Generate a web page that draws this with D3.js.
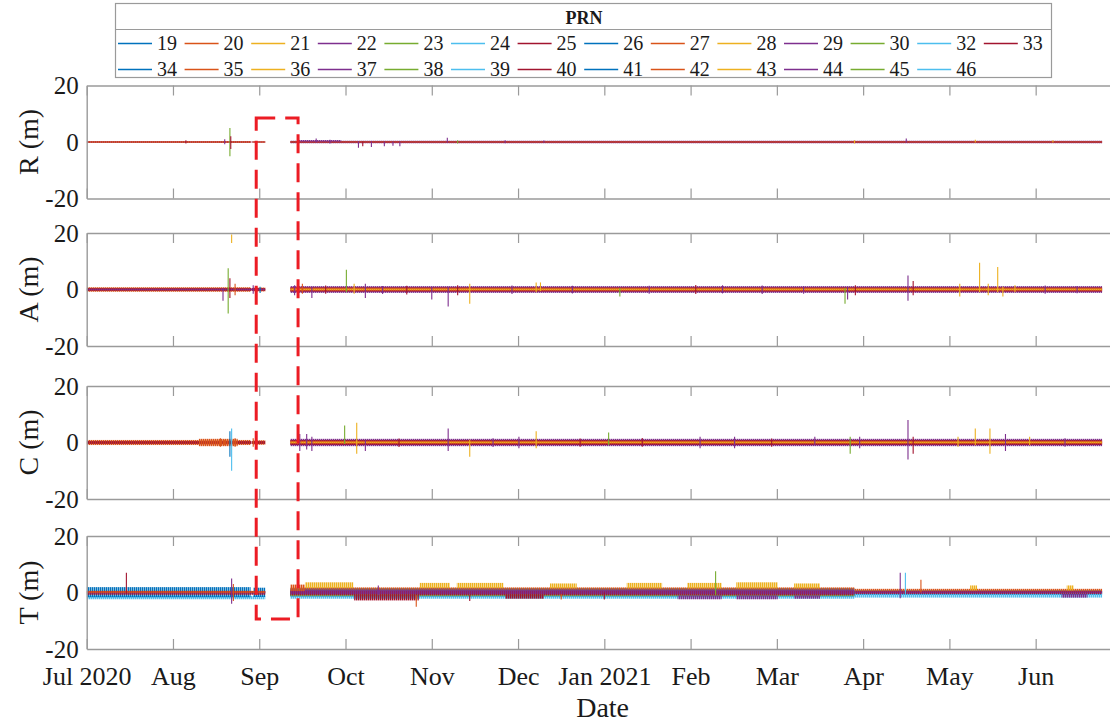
<!DOCTYPE html>
<html><head><meta charset="utf-8">
<script src="https://cdn.jsdelivr.net/npm/d3@7"></script>
<style>body{margin:0;background:#fff}svg{display:block}</style>
</head><body>
<script>
// ---------- data ----------
const monthLabels = ["Jul 2020","Aug","Sep","Oct","Nov","Dec","Jan 2021","Feb","Mar","Apr","May","Jun"];
const panelNames = ["R (m)","A (m)","C (m)","T (m)"];
const yTicks = [-20, 0, 20];
const prnRow1 = [19,20,21,22,23,24,25,26,27,28,29,30,32,33];
const prnRow2 = [34,35,36,37,38,39,40,41,42,43,44,45,46];
const palette = ["#0072BD","#D95319","#EDB120","#7E2F8E","#77AC30","#4DBEEE","#A2142F"];
// bands: [m0, m1, lo, hi, colour]  (envelope of the dense residual series)
const bandsR = [[0,1.90,-0.35,0.35,1],[1.93,2.07,-0.3,0.3,1],[0,2.07,-0.2,0.2,6],
  [2.36,11.77,-0.45,0.45,3],[2.36,11.77,-0.3,0.3,6],[2.36,11.77,-0.15,0.2,1],[2.45,2.95,0.1,0.7,3]];
const bandsA = [[0,1.90,-0.8,0.8,1],[1.93,2.07,-0.7,0.7,1],[0,2.07,-0.5,0.5,6],[0,2.07,-0.25,0.25,3],
  [2.36,11.77,-1.2,1.2,3],[2.36,11.77,-0.8,0.8,6],[2.36,11.77,-0.5,0.6,1],[2.36,11.77,-0.2,0.3,2]];
const bandsC = [[0,1.90,-0.9,0.9,1],[1.93,2.07,-0.8,0.8,1],[0,2.07,-0.5,0.5,6],[1.3,1.75,-1.3,1.3,1],
  [2.36,11.77,-1.3,1.3,3],[2.36,11.77,-0.9,0.9,6],[2.36,11.77,-0.5,0.6,1],[2.36,11.77,-0.2,0.3,2]];
const bandsT = [
  [0,2.07,-2.4,-1.2,5],[0,1.90,-1.7,1.9,0],[1.93,2.07,-1.6,1.7,0],[0,2.07,-0.8,0.5,6],[0,2.07,-0.4,0.4,3],[0,2.07,-0.2,0.6,1],
  [2.36,8.9,-2.2,-1.1,5],[2.36,8.9,-1.4,1.5,0],[2.36,8.9,-1.3,0.0,4],[2.36,8.9,0.0,1.8,1],[2.36,8.9,-1.0,0.6,6],[2.36,8.9,-0.6,1.0,3],
  [2.36,2.53,0.5,2.8,1],[3.10,3.85,-2.8,-0.8,6],[4.85,5.30,-2.2,-0.8,6],[6.85,7.36,-2.4,-1.0,3],[7.53,8.01,-2.4,-1.0,3],[8.20,8.50,-2.2,-1.0,3],
  [2.53,3.09,1.6,3.6,2],[3.86,4.21,1.6,3.4,2],[4.29,4.83,1.6,3.4,2],[5.37,5.68,1.5,3.2,2],[6.26,6.67,1.5,3.4,2],
  [6.96,7.36,1.5,3.4,2],[7.53,8.01,1.5,3.6,2],[8.20,8.50,1.5,3.2,2],
  [8.9,11.77,-1.8,-0.7,5],[8.9,11.77,-0.8,0.8,0],[8.9,11.77,0.0,1.3,1],[8.9,11.77,-0.5,0.5,6],[8.9,11.77,-0.3,0.4,3],
  [10.24,10.32,0.8,2.5,2],[11.36,11.44,0.8,2.5,2],[11.30,11.60,-1.8,-0.5,3]];
// spikes: [m, lo, hi, colour]
const spikesR = [[1.66,-5,5,4],[1.67,-2.5,2,6],[1.60,-0.8,1,3],[1.15,-0.5,0.6,6],[2.45,-0.3,1,3],[2.66,-0.2,1.2,3],
  [2.82,-0.5,0.8,3],[3.15,-2,0.3,3],[3.20,-1.5,0.2,6],[3.30,-1.8,0.3,3],[3.45,-1.5,0.2,3],[3.55,-1.3,0.2,3],[3.63,-1.5,0.2,3],
  [4.18,-0.3,1.5,3],[4.30,-0.5,0.6,4],[4.85,-0.4,0.6,3],[5.30,-0.3,0.5,3],[9.50,-0.3,1.2,3],[8.90,-0.5,0.6,2],[10.30,-0.2,0.8,2],[11.20,-0.2,0.6,2]];
const spikesA = [[1.58,-4,0.5,3],[1.64,-8.5,7.5,4],[1.66,-3,4,6],[1.68,16.5,19.5,2],[1.72,-2,2,1],[1.93,-1.5,1.5,3],[2.01,-1.2,1,0],
  [2.41,-2,1.5,3],[2.50,-1.5,2,1],[2.61,-3,1,3],[2.77,-1.5,1.4,6],[3.01,-1,7,4],[3.10,-1.5,2,2],[3.23,-3,2,3],
  [3.43,-1.6,1.2,3],[3.71,-1.8,1.3,6],[4.00,-3.5,1,3],[4.19,-6,1,3],[4.30,-2,1.5,6],[4.44,-5,2,2],
  [4.93,-1.6,1.4,3],[5.21,-1,2.5,2],[5.26,-0.5,2.5,2],[5.63,-1.4,1.3,3],[6.18,-2.5,0.5,4],
  [6.52,-1.5,1.3,3],[7.06,-1.6,1.6,6],[7.37,-1.4,1.5,3],[7.83,-1.6,1.4,3],
  [8.31,-1.5,1.2,3],[8.79,-5,0.5,4],[8.82,-3.5,1,3],[8.91,-2,1.5,6],[9.52,-4,5,3],[9.58,-2,3,6],
  [10.12,-2.5,2,2],[10.35,-1,9.5,2],[10.45,-2,2,2],[10.56,-1,8,2],[10.62,-2.5,1,2],[10.76,-1,1.5,2],
  [11.11,-1.5,1.4,3],[11.48,-1.3,1.2,3]];
const spikesC = [[1.55,-1.5,1.5,1],[1.60,-1,1,1],[1.68,-10,5,5],[1.66,-5,4,0],[1.72,-1.5,1.5,1],[1.93,-1.5,1.5,1],[2.47,-3,3,3],
  [2.55,-2.5,3,3],[2.61,-3,2,3],[2.99,-0.5,6,4],[3.13,-4,7,2],[3.23,-3,1,3],[3.62,-1.6,1.4,6],
  [4.19,-3,5,3],[4.44,-5,1,2],[4.71,-1.6,1.5,3],[5.01,-2,2,3],[5.21,-2,4,2],[5.72,-1.5,1.4,6],
  [6.05,-1,3.5,4],[6.44,-1.5,1.6,6],[7.11,-2,2,3],[7.51,-2,2,3],[7.94,-1.5,1.4,6],
  [8.44,-1,2,3],[8.85,-4,2,4],[8.96,-2,2,3],[9.52,-6,8,3],[9.58,-4,2,6],
  [10.10,-1.5,2,2],[10.30,-1,5,2],[10.47,-4,5,2],[10.65,-3,3,3],[10.93,-1,2,2],[11.34,-1.5,1.5,3]];
const spikesT = [[0.46,-0.5,7,6],[1.68,-4,5,3],[1.70,-3,3,1],[3.38,-1,2.5,3],[3.82,-5,-1,1],[4.44,-3,-1,6],[7.29,-1,7.5,4],
  [9.43,-2,7,3],[9.49,-1,7,5],[9.67,0,4.5,1],[5.50,-2.5,-0.5,1],[6.00,-2.5,0,6]];
const bandsByPanel = [bandsR, bandsA, bandsC, bandsT];
const spikesByPanel = [spikesR, spikesA, spikesC, spikesT];
// highlighted gap (dashed box)
const gapBox = {m0:1.965, m1:2.45, topPanel:0, topVal:8.5, botPanel:3, botVal:-9.4};

// ---------- layout ----------
const W = 1110, H = 725;
const panelTops = [85.5, 233, 386, 536], panelH = 113;
const x0 = 86.7, monthW = 86.27;
const font = "'Liberation Serif','Times New Roman',serif";
const axisCol = "#9a9a9a";

const svg = d3.select("body").append("svg").attr("width", W).attr("height", H)
  .style("font-family", font);
const defs = svg.append("defs");
palette.forEach((c, i) => {
  const p = defs.append("pattern").attr("id", "h" + i).attr("patternUnits", "userSpaceOnUse")
    .attr("width", 2).attr("height", 4).attr("x", i % 2);
  p.append("rect").attr("width", 1.5).attr("height", 4).attr("fill", c);
});

const x = d3.scaleLinear().domain([0, 12]).range([x0, x0 + 12 * monthW]);
const yScales = panelTops.map(t => d3.scaleLinear().domain([-20, 20]).range([t + panelH, t]));

panelTops.forEach((top, p) => {
  const y = yScales[p];
  const g = svg.append("g");
  defs.append("clipPath").attr("id", "clip" + p).append("rect")
    .attr("x", x0).attr("y", top).attr("width", W).attr("height", panelH);
  const plot = g.append("g").attr("clip-path", `url(#clip${p})`);
  plot.selectAll("rect.band").data(bandsByPanel[p]).join("rect")
    .attr("x", d => x(d[0])).attr("width", d => x(d[1]) - x(d[0]))
    .attr("y", d => y(d[3])).attr("height", d => y(d[2]) - y(d[3]))
    .attr("fill", d => `url(#h${d[4]})`);
  plot.selectAll("line.sp").data(spikesByPanel[p]).join("line")
    .attr("x1", d => x(d[0])).attr("x2", d => x(d[0]))
    .attr("y1", d => y(d[1])).attr("y2", d => y(d[2]))
    .attr("stroke", d => palette[d[3]]).attr("stroke-width", 1.1);

  // axes
  const bottom = d3.axisBottom(x).tickValues(d3.range(12)).tickSize(-10).tickSizeOuter(0).tickPadding(18)
    .tickFormat(p === 3 ? (d => monthLabels[d]) : () => "");
  const topAx = d3.axisTop(x).tickValues(d3.range(12)).tickSize(-10).tickSizeOuter(0).tickFormat(() => "");
  const left = d3.axisLeft(y).tickValues(yTicks).tickSize(0).tickPadding(8).tickFormat(d3.format("d"));
  const gb = g.append("g").attr("transform", `translate(0,${top + panelH})`).call(bottom);
  const gt = g.append("g").attr("transform", `translate(0,${top})`).call(topAx);
  const gl = g.append("g").attr("transform", `translate(${x0},0)`).call(left);
  [gb, gt, gl].forEach(a => {
    a.select(".domain").attr("stroke", axisCol).attr("stroke-width", 1.4);
    a.selectAll(".tick line").attr("stroke", axisCol).attr("stroke-width", 1.2);
    a.selectAll("text").attr("fill", "#1a1a1a").style("font-family", font).style("font-size", "26px");
  });
  gl.selectAll("text").text(d => d < 0 ? "-" + Math.abs(d) : d).style("font-size", "25px");
  g.append("text").attr("transform", `translate(28,${top + panelH / 2}) rotate(-90)`)
    .attr("text-anchor", "middle").attr("dominant-baseline", "central")
    .style("font-size", "28px").attr("fill", "#1a1a1a").text(panelNames[p]);
});

svg.append("text").attr("x", x(5.98)).attr("y", 717).attr("text-anchor", "middle")
  .style("font-size", "28px").attr("fill", "#1a1a1a").text("Date");

// dashed gap box
svg.append("rect")
  .attr("x", x(gapBox.m0)).attr("width", x(gapBox.m1) - x(gapBox.m0))
  .attr("y", yScales[gapBox.topPanel](gapBox.topVal))
  .attr("height", yScales[gapBox.botPanel](gapBox.botVal) - yScales[gapBox.topPanel](gapBox.topVal))
  .attr("fill", "none").attr("stroke", "#ec1c24").attr("stroke-width", 3).attr("stroke-dasharray", "19 10");

// legend
const lg = svg.append("g");
lg.append("rect").attr("x", 115.5).attr("y", 3.5).attr("width", 936).attr("height", 74)
  .attr("fill", "#fff").attr("stroke", axisCol).attr("stroke-width", 1.2);
lg.append("line").attr("x1", 115.5).attr("x2", 1051.5).attr("y1", 29.5).attr("y2", 29.5)
  .attr("stroke", axisCol).attr("stroke-width", 1.2);
lg.append("text").attr("x", 584).attr("y", 24).attr("text-anchor", "middle")
  .style("font-size", "18px").style("font-weight", "bold").attr("fill", "#1a1a1a").text("PRN");
[[prnRow1, 43.5, 50], [prnRow2, 69.5, 75.5]].forEach(([row, ly, ty], r) => {
  const item = lg.selectAll(null).data(row).join("g")
    .attr("transform", (d, i) => `translate(${118 + i * 66.6},0)`);
  item.append("line").attr("x1", 0).attr("x2", 34).attr("y1", ly).attr("y2", ly)
    .attr("stroke", (d, i) => palette[(i + r * prnRow1.length) % 7]).attr("stroke-width", 1.3);
  item.append("text").attr("x", 39).attr("y", ty).style("font-size", "20px").attr("fill", "#1a1a1a").text(d => d);
});
</script>
</body></html>
